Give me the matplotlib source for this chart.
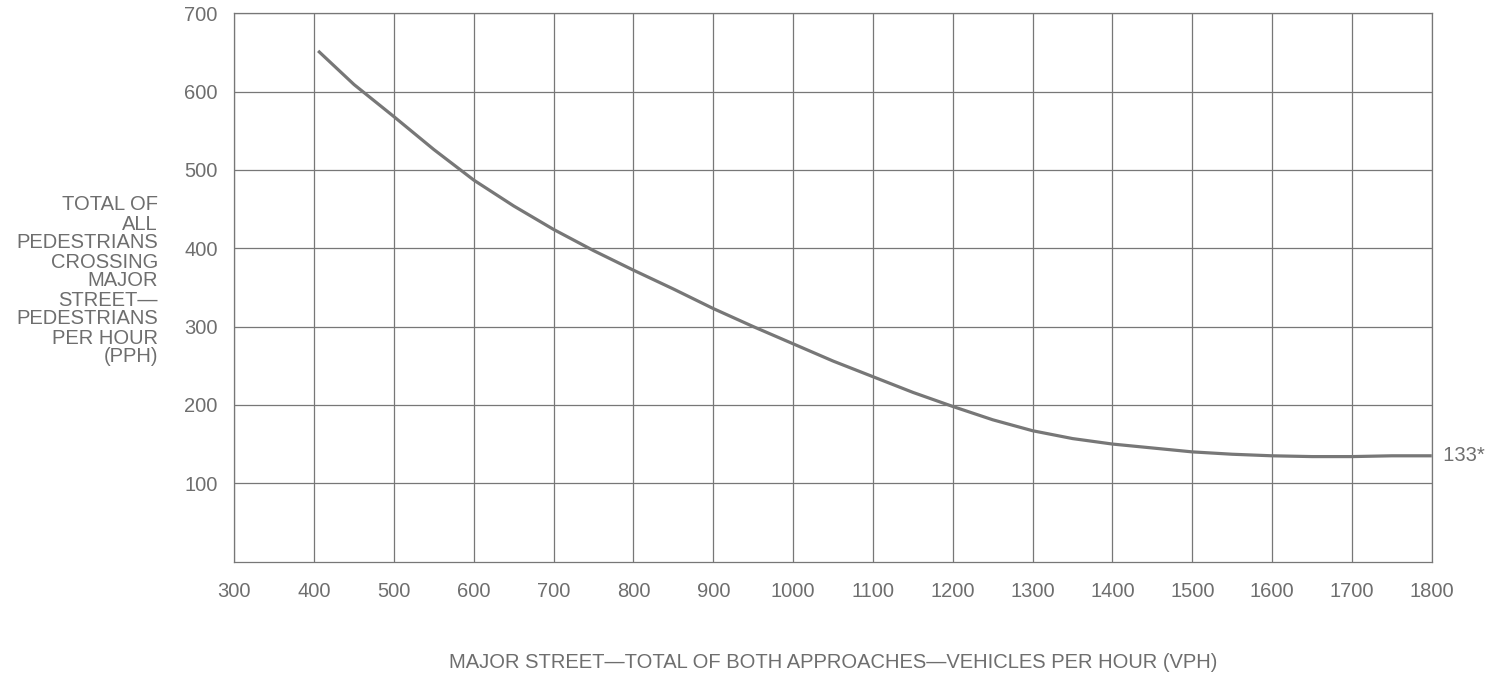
import numpy as np
import matplotlib
matplotlib.use("Agg")
import matplotlib.pyplot as plt

plt.rcParams['font.family'] = ['Liberation Sans', 'DejaVu Sans']

# Curve values (vehicles per hour -> pedestrians per hour)
vph = [405, 450, 500, 550, 600, 650, 700, 750, 800, 850, 900, 950, 1000,
       1050, 1100, 1150, 1200, 1250, 1300, 1350, 1400, 1450, 1500, 1550,
       1600, 1650, 1700, 1750, 1800]
pph = [652, 609, 568, 526, 487, 454, 424, 397, 372, 348, 323, 300, 278,
       256, 236, 216, 198, 181, 167, 157, 150, 145, 140, 137,
       135, 134, 134, 135, 135]

x_ticks = list(range(300, 1801, 100))
y_ticks = list(range(100, 701, 100))
end_label = "133*"

grey = '#777777'
text_grey = '#6e6e6e'
fs = 14.5

fig = plt.figure(figsize=(15.03, 6.75), dpi=100)
ax = fig.add_axes([0.1559, 0.1681, 0.9526 - 0.1559, 0.9803 - 0.1681])

ax.plot(vph, pph, color=grey, linewidth=2.3, solid_capstyle='butt',
        solid_joinstyle='round')

ax.set_xlim(300, 1800)
ax.set_ylim(0, 700)
ax.set_xticks(x_ticks)
ax.set_yticks(y_ticks)
ax.grid(True, color=grey, linewidth=0.9)
ax.set_axisbelow(True)
for s in ax.spines.values():
    s.set_color(grey)
    s.set_linewidth(0.9)
ax.tick_params(length=0, labelsize=fs, labelcolor=text_grey)
ax.tick_params(axis='x', pad=15)
ax.tick_params(axis='y', pad=12)

ax.text(1800, pph[-1], '  ' + end_label, ha='left', va='center',
        fontsize=fs, color=text_grey)

fig.text(0.5545, 1 - 662 / 675,
         'MAJOR STREET\u2014TOTAL OF BOTH APPROACHES\u2014VEHICLES PER HOUR (VPH)',
         ha='center', va='center', fontsize=fs, color=text_grey)

fig.text(158 / 1503, 1 - 281 / 675,
         'TOTAL OF\nALL\nPEDESTRIANS\nCROSSING\nMAJOR\nSTREET\u2014\nPEDESTRIANS\nPER HOUR\n(PPH)',
         ha='right', va='center', multialignment='right', fontsize=fs,
         color=text_grey, linespacing=1.0)

fig.savefig('out.png', dpi=100)
